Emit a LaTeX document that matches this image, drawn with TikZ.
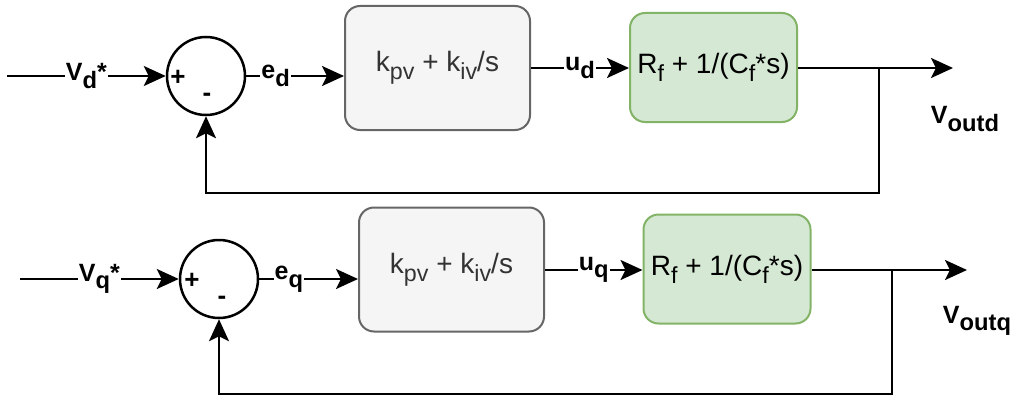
\documentclass[tikz,border=0pt]{standalone}
\usepackage{fontspec}
\setmainfont{Liberation Sans}
\usetikzlibrary{arrows.meta}
\definecolor{pfill}{HTML}{F5F5F5}
\definecolor{pdraw}{HTML}{666666}
\definecolor{ptext}{HTML}{333333}
\definecolor{gfill}{HTML}{D5E8D4}
\definecolor{gdraw}{HTML}{82B366}
\newcommand{\lsub}[1]{\raisebox{-0.28em}{\scalebox{0.83}{#1}}}
\newcommand{\bsub}[1]{\raisebox{-0.3em}{\scalebox{0.95}{#1}}}
\begin{document}
\begin{tikzpicture}[x=1pt,y=-1pt,
  arr/.style={line width=2.5pt,-{Stealth[length=22pt,width=20pt,inset=5pt]}},
  lbl/.style={fill=white,inner sep=1pt,font=\fontsize{25}{29}\selectfont\bfseries},
  sgn/.style={inner sep=0pt,font=\fontsize{26}{30}\selectfont\bfseries},
  sumnode/.style={circle,draw,line width=2.5pt,minimum size=78pt,inner sep=0pt},
  pbox/.style={rectangle,rounded corners=15pt,draw=pdraw,fill=pfill,line width=2pt,text=ptext,
    font=\fontsize{28}{32}\selectfont,minimum width=185pt,minimum height=124pt},
  gbox/.style={rectangle,rounded corners=15pt,draw=gdraw,fill=gfill,line width=2pt,
    font=\fontsize{28}{32}\selectfont,minimum width=167pt,minimum height=109pt},
  outlbl/.style={inner sep=0pt,font=\fontsize{25}{29}\selectfont\bfseries}]
\useasboundingbox (0,0) rectangle (1015,396);

% ---- d axis ----
\coordinate (in1) at (7,76);
\node[sumnode] (s1) at (206,76) {};
\node[sgn] (p1) at (178,78) {+};
\node[sgn] (m1) at (207,97) {-};
\node[pbox] (c1) at (437.5,68) {k\lsub{pv} + k\lsub{iv}/s};
\node[gbox] (g1) at (713.5,67.5) {R\lsub{f} + 1/(C\lsub{f}*s)};
\coordinate (o1) at (953,68);
\coordinate (j1) at (879,68);
\coordinate (b1) at (879,193);
\node[outlbl] (vo1) at (965,119) {V\bsub{outd}};

\draw[arr] (in1) -- node[lbl]{V\bsub{d}*} (s1.west);
\draw[arr] (s1.east) -- node[lbl,pos=0.3]{e\bsub{d}} (s1.east -| c1.west);
\draw[arr] (c1.east) -- node[lbl]{u\bsub{d}} (g1.west |- c1.east);
\draw[arr] (g1.east |- o1) -- (o1);
\draw[arr] (j1) -- (b1) -| (s1.south);

% ---- q axis ----
\coordinate (in2) at (20,279);
\node[sumnode] (s2) at (219,279) {};
\node[sgn] (p2) at (192,281) {+};
\node[sgn] (m2) at (222,300) {-};
\node[pbox] (c2) at (451.5,269.5) {k\lsub{pv} + k\lsub{iv}/s};
\node[gbox] (g2) at (727,269) {R\lsub{f} + 1/(C\lsub{f}*s)};
\coordinate (o2) at (967,270);
\coordinate (j2) at (892,270);
\coordinate (b2) at (892,394);
\node[outlbl] (vo2) at (977,321) {V\bsub{outq}};

\draw[arr] (in2) -- node[lbl]{V\bsub{q}*} (s2.west);
\draw[arr] (s2.east) -- node[lbl,pos=0.3]{e\bsub{q}} (s2.east -| c2.west);
\draw[arr] (c2.east |- o2) -- node[lbl]{u\bsub{q}} (g2.west |- o2);
\draw[arr] (g2.east |- o2) -- (o2);
\draw[arr] (j2) -- (b2) -| (s2.south);
\end{tikzpicture}
\end{document}
